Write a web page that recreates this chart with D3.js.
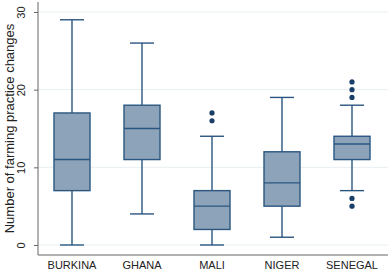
<!DOCTYPE html>
<html>
<head>
<meta charset="utf-8">
<script src="https://cdn.jsdelivr.net/npm/d3@7"></script>
<style>
  html, body { margin: 0; padding: 0; background: #fff; }
  svg { display: block; font-family: "Liberation Sans", Arial, sans-serif; }
</style>
</head>
<body>
<svg width="388" height="274"></svg>
<script>
// ---- data ----
const countries = ['BURKINA', 'GHANA', 'MALI', 'NIGER', 'SENEGAL'];
const whiskerLow = [0, 4, 0, 1, 7];
const quartile1 = [7, 11, 2, 5, 11];
const medians = [11, 15, 5, 8, 13];
const quartile3 = [17, 18, 7, 12, 14];
const whiskerHigh = [29, 26, 14, 19, 18];
const outliers = [[], [], [16, 17], [], [5, 6, 19, 20, 21]];
const yTicks = [0, 10, 20, 30];

const width = 388, height = 274;
const margin = { top: 12, right: 1, bottom: 19, left: 37 };

const svg = d3.select('svg');

// ======================= SCALES ===============================
const xScale = d3.scaleBand()
    .domain(countries)
    .range([margin.left, width - margin.right])
    .paddingInner(0.485)
    .paddingOuter(0.2425);

const yScale = d3.scaleLinear()
    .domain([0, 30])
    .range([245, 12]);

const boxW = 36, capW = 24;

// ======================= GRID ===============================
svg.append('g')
    .selectAll('line')
    .data(yTicks)
    .enter()
    .append('line')
    .attr('x1', margin.left + 1)
    .attr('x2', width)
    .attr('y1', d => yScale(d))
    .attr('y2', d => yScale(d))
    .attr('stroke', '#e8f0f2')
    .attr('stroke-width', 1);

// ======================= BOXES ===============================
const data = countries.map((c, i) => ({
    c, lo: whiskerLow[i], q1: quartile1[i], med: medians[i],
    q3: quartile3[i], hi: whiskerHigh[i], out: outliers[i]
}));
const stroke = '#2a5680';
const g = svg.append('g').selectAll('g').data(data).enter().append('g')
    .attr('transform', d => `translate(${xScale(d.c) + xScale.bandwidth() / 2},0)`);

g.append('line').attr('x1', 0).attr('x2', 0)
    .attr('y1', d => yScale(d.hi)).attr('y2', d => yScale(d.q3))
    .attr('stroke', stroke).attr('stroke-width', 1.4);
g.append('line').attr('x1', 0).attr('x2', 0)
    .attr('y1', d => yScale(d.q1)).attr('y2', d => yScale(d.lo))
    .attr('stroke', stroke).attr('stroke-width', 1.4);
g.append('line').attr('x1', -capW / 2).attr('x2', capW / 2)
    .attr('y1', d => yScale(d.hi)).attr('y2', d => yScale(d.hi))
    .attr('stroke', stroke).attr('stroke-width', 1.4);
g.append('line').attr('x1', -capW / 2).attr('x2', capW / 2)
    .attr('y1', d => yScale(d.lo)).attr('y2', d => yScale(d.lo))
    .attr('stroke', stroke).attr('stroke-width', 1.4);
g.append('rect')
    .attr('x', -boxW / 2).attr('width', boxW)
    .attr('y', d => yScale(d.q3))
    .attr('height', d => yScale(d.q1) - yScale(d.q3))
    .attr('fill', '#8da3b9')
    .attr('stroke', stroke).attr('stroke-width', 1.4);
g.append('line').attr('x1', -boxW / 2).attr('x2', boxW / 2)
    .attr('y1', d => yScale(d.med)).attr('y2', d => yScale(d.med))
    .attr('stroke', stroke).attr('stroke-width', 1.4);
g.selectAll('circle').data(d => d.out).enter().append('circle')
    .attr('cx', 0).attr('cy', d => yScale(d)).attr('r', 2.6)
    .attr('fill', '#1a3e66');

// ======================= AXES ===============================
const yAxis = svg.append('g')
    .attr('transform', `translate(${margin.left + 1},0)`)
    .call(d3.axisLeft(yScale).tickValues(yTicks).tickSize(4).tickPadding(3).tickSizeOuter(0));
yAxis.select('.domain').attr('d', `M0,${yScale(30) - 10}V${height - margin.bottom}`).attr('stroke', '#666');
yAxis.selectAll('.tick line').attr('stroke', '#666');
yAxis.selectAll('.tick text')
    .attr('transform', 'rotate(-90)')
    .attr('x', 0).attr('y', -13)
    .attr('dy', 0)
    .attr('text-anchor', 'middle')
    .attr('font-size', 11).attr('fill', '#222')
    .attr('font-family', '"Liberation Sans", Arial, sans-serif');

svg.append('line')
    .attr('x1', margin.left + 1).attr('x2', width)
    .attr('y1', height - margin.bottom).attr('y2', height - margin.bottom)
    .attr('stroke', '#666').attr('stroke-width', 1);

svg.append('g').selectAll('text').data(countries).enter().append('text')
    .attr('x', d => xScale(d) + xScale.bandwidth() / 2)
    .attr('y', 269)
    .attr('text-anchor', 'middle')
    .attr('font-size', 11).attr('fill', '#222')
    .text(d => d);

svg.append('text')
    .attr('transform', `translate(14,${(yScale(0) + yScale(30)) / 2}) rotate(-90)`)
    .attr('text-anchor', 'middle')
    .attr('font-size', 13).attr('fill', '#222')
    .text('Number of farming practice changes');
</script>
</body>
</html>
